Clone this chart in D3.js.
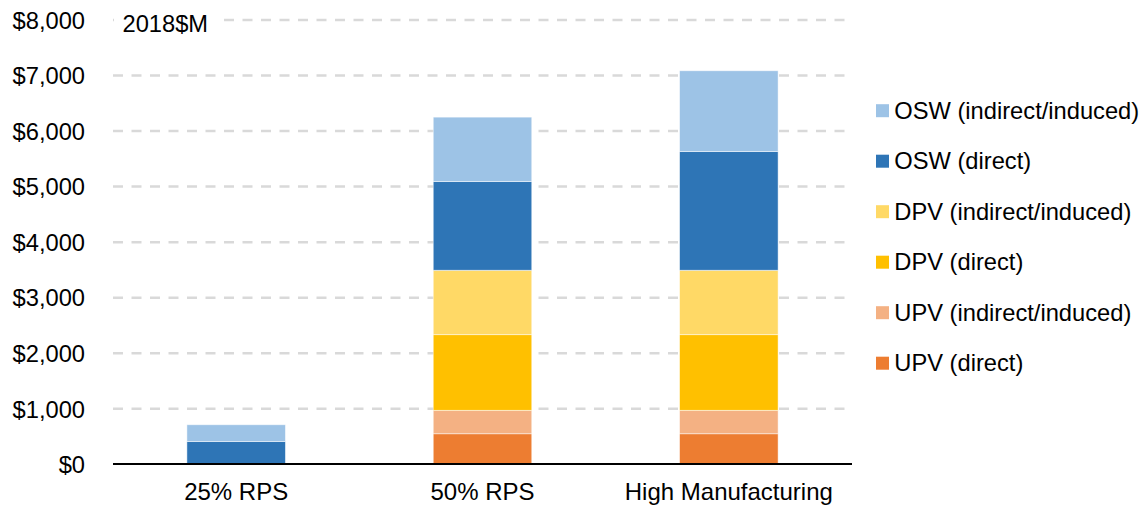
<!DOCTYPE html>
<html>
<head>
<meta charset="utf-8">
<script src="https://cdn.jsdelivr.net/npm/d3@7"></script>
<style>
  html, body { margin: 0; padding: 0; background: #fff; }
  svg { display: block; font-family: "Liberation Sans", Arial, sans-serif; }
</style>
</head>
<body>
<svg id="chart" width="1144" height="505"></svg>
<script>
const categories = ["25% RPS", "50% RPS", "High Manufacturing"];
const seriesNames = ["UPV (direct)", "UPV (indirect/induced)", "DPV (direct)", "DPV (indirect/induced)", "OSW (direct)", "OSW (indirect/induced)"];
const upvDirect   = [0, 550, 550];
const upvIndirect = [0, 422, 422];
const dpvDirect   = [0, 1362, 1362];
const dpvIndirect = [0, 1160, 1160];
const oswDirect   = [412, 1597, 2137];
const oswIndirect = [300, 1160, 1455];
const yTicks = [0, 1000, 2000, 3000, 4000, 5000, 6000, 7000, 8000];
const colors = ["#ED7D31", "#F4B183", "#FFC000", "#FFD966", "#2E75B6", "#9DC3E6"];
const unitLabel = "2018$M";

const seriesValues = [upvDirect, upvIndirect, dpvDirect, dpvIndirect, oswDirect, oswIndirect];
const table = categories.map((c, i) => {
  const row = { category: c };
  seriesNames.forEach((s, j) => row[s] = seriesValues[j][i]);
  return row;
});

const svg = d3.select("#chart");
const plotLeft = 113, plotRight = 852, plotTop = 20, plotBottom = 464.3;
const fontSize = 23.7;
const xFontSize = 24;

const x = d3.scaleBand().domain(categories).range([plotLeft, plotRight]).paddingInner(0.6).paddingOuter(0.3);
const y = d3.scaleLinear().domain([0, 8000]).range([plotBottom, plotTop]);

// gridlines
svg.append("g").selectAll("line").data(yTicks.filter(d => d > 0)).join("line")
  .attr("x1", plotLeft).attr("x2", plotRight)
  .attr("y1", d => y(d)).attr("y2", d => y(d))
  .attr("stroke", "#d9d9d9").attr("stroke-width", 2.5)
  .attr("stroke-dasharray", "10,8.5");

// y axis labels
const yAxis = d3.axisLeft(y).tickValues(yTicks).tickSize(0).tickPadding(0)
  .tickFormat(d => "$" + d3.format(",")(d));
const yg = svg.append("g").attr("transform", `translate(85,0)`).call(yAxis);
yg.select(".domain").remove();
yg.selectAll("text").attr("font-size", fontSize).attr("fill", "#000")
  .attr("font-family", "Liberation Sans, Arial, sans-serif").attr("dy", "0.35em");

// stacked bars
const stack = d3.stack().keys(seriesNames);
const stacked = stack(table);
svg.append("g").selectAll("g").data(stacked).join("g")
  .attr("fill", (d, i) => colors[i])
  .selectAll("rect").data(d => d).join("rect")
  .attr("x", d => x(d.data.category))
  .attr("width", x.bandwidth())
  .attr("y", d => y(d[1]))
  .attr("height", d => Math.max(0, y(d[0]) - y(d[1])))
  .attr("stroke", "#ffffff").attr("stroke-opacity", 0.6).attr("stroke-width", d => (d[1] - d[0]) > 0 ? 0.8 : 0);

// x axis line
svg.append("line").attr("x1", plotLeft).attr("x2", plotRight).attr("y1", 464).attr("y2", 464)
  .attr("stroke", "#000").attr("stroke-width", 1.8);

// x labels
const xAxis = d3.axisBottom(x).tickSize(0).tickPadding(0);
const xg = svg.append("g").attr("transform", `translate(0,${plotBottom})`).call(xAxis);
xg.select(".domain").remove();
xg.selectAll("text").attr("font-size", xFontSize).attr("fill", "#000")
  .attr("font-family", "Liberation Sans, Arial, sans-serif").attr("dy", null).attr("y", 35.5);

// unit label with white background
svg.append("rect").attr("x", 114).attr("y", 4).attr("width", 102).attr("height", 34).attr("fill", "#fff");
svg.append("text").attr("x", 122.5).attr("y", 32.3).attr("font-size", fontSize).attr("fill", "#000").text(unitLabel);

// legend (reverse order)
const legendItems = seriesNames.map((s, i) => ({ name: s, color: colors[i] })).reverse();
const legendY0 = 110.7, legendStep = 50.5;
const lg = svg.append("g").selectAll("g").data(legendItems).join("g")
  .attr("transform", (d, i) => `translate(876,${legendY0 + i * legendStep})`);
lg.append("rect").attr("x", 0).attr("y", -6.5).attr("width", 13).attr("height", 13).attr("fill", d => d.color);
lg.append("text").attr("x", 18.3).attr("y", 0).attr("dy", "0.35em").attr("font-size", fontSize).attr("fill", "#000").text(d => d.name);
</script>
</body>
</html>
